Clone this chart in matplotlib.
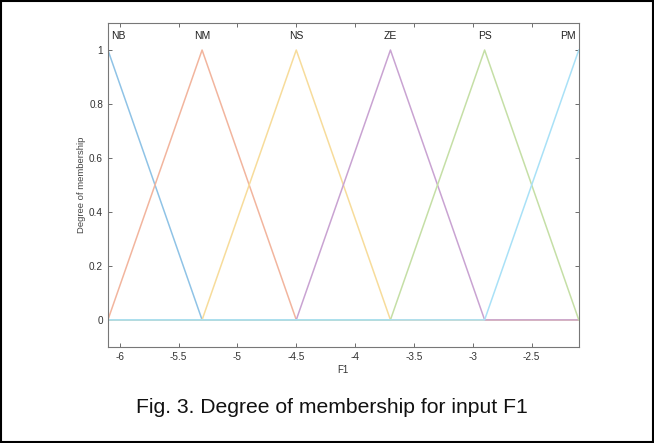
import matplotlib
matplotlib.use("Agg")
import matplotlib.pyplot as plt
import numpy as np

plt.rcParams["font.family"] = ["Liberation Sans", "DejaVu Sans"]

# membership function breakpoints (triangles a, b, c) over input F1
x_range = [-6.1, -2.1]
mf_names = ["NB", "NM", "NS", "ZE", "PS", "PM"]
mf_a = [-6.9, -6.1, -5.3, -4.5, -3.7, -2.9]
mf_b = [-6.1, -5.3, -4.5, -3.7, -2.9, -2.1]
mf_c = [-5.3, -4.5, -3.7, -2.9, -2.1, -1.3]
colors = ["#8fc3e6", "#f2b59e", "#f7dc9b", "#c9a3d2", "#c5dfa6", "#a9e1f7"]

x_ticks = [-6, -5.5, -5, -4.5, -4, -3.5, -3, -2.5]
y_ticks = [0, 0.2, 0.4, 0.6, 0.8, 1]


def trimf(x, a, b, c):
    left = (x - a) / (b - a)
    right = (c - x) / (c - b)
    return np.clip(np.minimum(left, right), 0, 1)


fig = plt.figure(figsize=(6.54, 4.43), dpi=100)
ax = fig.add_axes([0.165, 0.217, 0.72, 0.731])

for name, a, b, c, col in zip(mf_names, mf_a, mf_b, mf_c, colors):
    xs = np.unique(np.clip([x_range[0], a, b, c, x_range[1]], *x_range))
    ax.plot(xs, trimf(xs, a, b, c), color=col, lw=1.1)
    # labels at the edges are kept inside the axes, as MATLAB does
    if b <= x_range[0]:
        ha, dx = "left", 2.5
    elif b >= x_range[1]:
        ha, dx = "right", -2.5
    else:
        ha, dx = "center", 0
    ax.annotate(name, (b, 1.052), xytext=(dx, 0), textcoords="offset points",
                ha=ha, va="center", fontsize=7.5, color="#222222")

ax.set_xlim(x_range)
ax.set_ylim(-0.1, 1.1)
ax.set_xticks(x_ticks)
ax.set_xticklabels([f"{v:g}" for v in x_ticks])
ax.set_yticks(y_ticks)
ax.set_yticklabels([f"{v:g}" for v in y_ticks])
ax.tick_params(direction="in", top=True, right=True, labelsize=7.2,
               colors="#555555", labelcolor="#333333", length=3, width=0.6)
for s in ax.spines.values():
    s.set_color("#777777")
    s.set_linewidth(0.8)
ax.set_xlabel("F1", fontsize=7, color="#333333", labelpad=2)
ax.set_ylabel("Degree of membership", fontsize=6.8, color="#444444", labelpad=2)

fig.text(0.507, 0.081, "Fig. 3. Degree of membership for input F1",
         ha="center", va="center", fontsize=15.2, color="#111111")

border = plt.Rectangle((0.002, 0.003), 0.996, 0.994, transform=fig.transFigure,
                       fill=False, edgecolor="black", lw=1.5)
fig.patches.append(border)

fig.savefig("out.png", dpi=100)
